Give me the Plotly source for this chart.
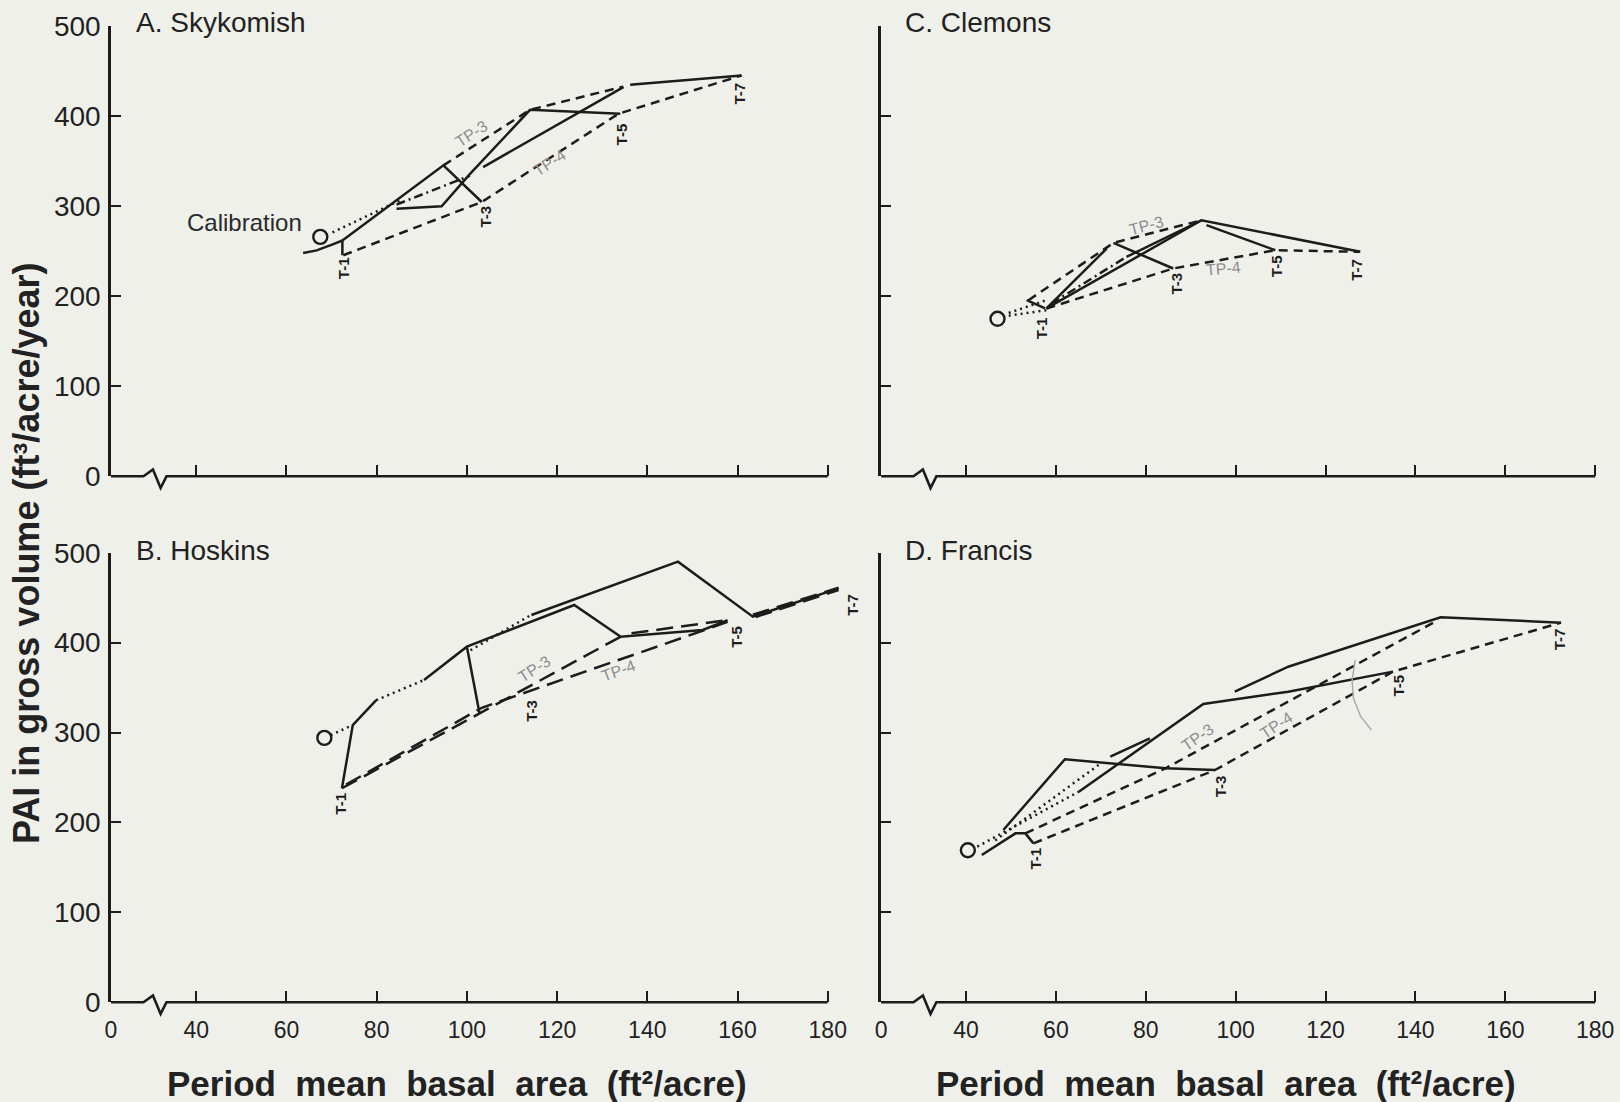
import plotly.graph_objects as go

BG = "#f0f0eb"
INK = "#1c1c1c"
GREY = "#8c8c8c"
SANS = "Liberation Sans, Arial, sans-serif"

# ---------------------------------------------------------------- axes
X_START = 21.1                      # left end of the broken axis, labelled "0"
X_TICKS = [40, 60, 80, 100, 120, 140, 160, 180]
Y_TICKS = [0, 100, 200, 300, 400, 500]
X_LEFT_MAX = 187
X_RIGHT_MAX = 181

# ---------------------------------------------------------------- A. Skykomish
sky_cal = [67.5, 266]
sky_solid_x = [63.7, 66.7, 70.4, 72.4, None, 72.4, 72.4, None, 72.4, 94.8, 103.3, None,
               84.4, 94.4, 100.7, 114.0, 134.0, None, 103.6, 134.7, None, 136.2, 160.9]
sky_solid_y = [248, 251, 258, 262, None, 262, 245.6, None, 262, 345.5, 304.8, None,
               297.4, 300, 336, 407.2, 402.8, None, 343.6, 432.4, None, 435, 445.4]
sky_dash_x = [72.6, 103.3, 133.6, 160.9, None, 94.8, 114.0, 134.7]
sky_dash_y = [245.6, 304.8, 402.8, 445.4, None, 345.5, 407.2, 433]
sky_dashdot_x = [84.4, 100.7]
sky_dashdot_y = [302, 334]
sky_dot_x = [70.2, 85.2]
sky_dot_y = [271, 306.6]

# ---------------------------------------------------------------- C. Clemons
cle_cal = [47, 175]
cle_solid_x = [53.5, 57.6, None, 57.9, 71.3, None, 72.8, 86.1, None, 57.9, 92.4, 127.7, None,
               93.5, 108.8, None, 75.7, 92.4]
cle_solid_y = [195.7, 186.5, None, 186.5, 253.1, None, 259.3, 230.9, None, 186.5, 284.5, 249.4, None,
               279, 251.2, None, 243.8, 284.5]
cle_dash_x = [57.9, 86.1, 108.8, 127.7, None, 53.9, 72.8, 92.4]
cle_dash_y = [186.5, 230.9, 251.2, 249.4, None, 195.7, 259.3, 284.5]
cle_dashdot_x = [59, 75.7]
cle_dashdot_y = [192, 243.8]
cle_dot_x = [49.5, 57.9, None, 49.5, 57.9]
cle_dot_y = [181.5, 195.7, None, 178.5, 184.6]

# ---------------------------------------------------------------- B. Hoskins
hos_cal = [68.4, 294]
hos_solid_x = [72.3, 74.7, 79.9, None, 90.5, 100.0, 123.8, 134.1, 152.3, 157.8, None,
               100.0, 102.8, None, 114.3, 146.8, 163.4, 182.4]
hos_solid_y = [238, 308.3, 336, None, 358.4, 395.5, 441.8, 406.6, 414, 425.1, None,
               395.5, 321.3, None, 430.7, 490, 428.8, 460.3]
hos_tp3_x = [72.3, 102.8, 134.1, None, 136.5, 157.8, None, 163.4, 182.4]
hos_tp3_y = [238, 321.3, 406.6, None, 410.3, 425.1, None, 431, 461]
hos_tp4_x = [73.2, 103.3, 157.8, None, 164.0, 182.4]
hos_tp4_y = [242, 327.5, 423, None, 428.5, 458.5]
hos_dot_x = [69.8, 74.7, None, 79.9, 90.5, None, 100.8, 114.3]
hos_dot_y = [297, 308.3, None, 336, 358.4, None, 391.5, 431]

# ---------------------------------------------------------------- D. Francis
fra_cal = [40.4, 169]
fra_solid_x = [43.5, 51.0, 53.2, 55.0, None, 48.3, 62.0, 84.4, 95.4, None,
               65.1, 92.8, 111.7, 135.0, None, 72.1, 80.9, None, 99.8, 111.7, 145.6, 172.4]
fra_solid_y = [163.8, 187.8, 187.8, 176.7, None, 191.6, 270.2, 260.2, 258.3, None,
               234.2, 331.7, 345.4, 367.7, None, 273.1, 293.5, None, 345.4, 373.2, 428.1, 422.2]
fra_dash_x = [55.0, 95.4, 135.0, 172.4, None, 53.2, 84.4, 145.1]
fra_dash_y = [176.7, 258.3, 367.7, 422.2, None, 187.8, 260.2, 425.2]
fra_dot_x = [42.5, 65.1, None, 46.5, 69.5]
fra_dot_y = [173, 234.2, None, 180, 263.9]
fra_mark_x = [126.6, 125.9, 126.2, 127.8, 130.2]
fra_mark_y = [380.7, 358, 338, 318, 302.8]

# ---------------------------------------------------------------- labels: (text, x, y[, angle])
sky_t_labels = [("T-1", 72.7, 231), ("T-3", 104.1, 289), ("T-5", 134.2, 380), ("T-7", 160.5, 425)]
sky_tp_labels = [("TP-3", 101.1, 381, -33), ("TP-4", 118.4, 349, -33)]
cle_t_labels = [("T-1", 56.8, 164), ("T-3", 86.9, 214), ("T-5", 109.1, 233), ("T-7", 126.9, 229)]
cle_tp_labels = [("TP-3", 80.2, 279, -15), ("TP-4", 97.3, 231, -5)]
hos_t_labels = [("T-1", 71.9, 221), ("T-3", 114.4, 324), ("T-5", 159.8, 406), ("T-7", 185.6, 442)]
hos_tp_labels = [("TP-3", 115.1, 371, -33), ("TP-4", 133.7, 369, -20)]
fra_t_labels = [("T-1", 55.4, 160), ("T-3", 96.7, 240), ("T-5", 136.3, 352), ("T-7", 172.0, 404)]
fra_tp_labels = [("TP-3", 91.4, 295, -35), ("TP-4", 109.0, 308, -33)]

fig = go.Figure()
LW = 2.5


def line(xs, ys, ax, dash="solid", width=LW, color=INK):
    fig.add_trace(go.Scatter(
        x=xs, y=ys, xaxis=ax[0], yaxis=ax[1], mode="lines",
        line=dict(color=color, width=width, dash=dash),
        hoverinfo="skip", showlegend=False))


def cal_point(pt, ax):
    fig.add_trace(go.Scatter(
        x=[pt[0]], y=[pt[1]], xaxis=ax[0], yaxis=ax[1], mode="markers",
        marker=dict(symbol="circle-open", size=14, color=INK, line=dict(width=2.4, color=INK)),
        hoverinfo="skip", showlegend=False))


DASH = "9px,6px"
LONGDASH = "17px,8px"
DASHDOT = "9px,4px,2px,4px"
DOT = "2px,4px"

panels = [
    (("x", "y"), sky_cal, [(sky_solid_x, sky_solid_y, "solid"), (sky_dash_x, sky_dash_y, DASH),
                            (sky_dashdot_x, sky_dashdot_y, DASHDOT), (sky_dot_x, sky_dot_y, DOT)]),
    (("x2", "y2"), cle_cal, [(cle_solid_x, cle_solid_y, "solid"), (cle_dash_x, cle_dash_y, DASH),
                              (cle_dashdot_x, cle_dashdot_y, DASHDOT), (cle_dot_x, cle_dot_y, DOT)]),
    (("x3", "y3"), hos_cal, [(hos_solid_x, hos_solid_y, "solid"), (hos_tp3_x, hos_tp3_y, LONGDASH),
                              (hos_tp4_x, hos_tp4_y, LONGDASH), (hos_dot_x, hos_dot_y, DOT)]),
    (("x4", "y4"), fra_cal, [(fra_solid_x, fra_solid_y, "solid"), (fra_dash_x, fra_dash_y, DASH),
                              (fra_dot_x, fra_dot_y, DOT)]),
]

for ax, cal, series in panels:
    for xs, ys, dash in series:
        line(xs, ys, ax, dash)
    cal_point(cal, ax)

# faint pencil stroke across the Francis treatment lines
line(fra_mark_x, fra_mark_y, ("x4", "y4"), width=1.4, color="#a8a8a8")

annotations = []


def t_labels(items, ax):
    for text, x, y in items:
        annotations.append(dict(text=text, x=x, y=y, xref=ax[0], yref=ax[1], showarrow=False,
                                textangle=-90,
                                font=dict(family=SANS, size=15, color=INK, weight="bold")))


def tp_labels(items, ax):
    for text, x, y, ang in items:
        annotations.append(dict(text=text, x=x, y=y, xref=ax[0], yref=ax[1], showarrow=False,
                                textangle=ang, font=dict(family=SANS, size=16, color=GREY)))


t_labels(sky_t_labels, ("x", "y"))
tp_labels(sky_tp_labels, ("x", "y"))
t_labels(cle_t_labels, ("x2", "y2"))
tp_labels(cle_tp_labels, ("x2", "y2"))
t_labels(hos_t_labels, ("x3", "y3"))
tp_labels(hos_tp_labels, ("x3", "y3"))
t_labels(fra_t_labels, ("x4", "y4"))
tp_labels(fra_tp_labels, ("x4", "y4"))

annotations.append(dict(text="Calibration", x=63.8, y=282, xref="x", yref="y", xanchor="right",
                        yanchor="middle", showarrow=False,
                        font=dict(family=SANS, size=24, color="#2a2a2a")))

# panel titles
TITLE_FONT = dict(family=SANS, size=28, color="#222")
for text, x, y in [("A. Skykomish", 134 / 1620, 1 - 22.7 / 1102), ("C. Clemons", 903 / 1620, 1 - 22.7 / 1102),
                   ("B. Hoskins", 134 / 1620, 1 - 550.7 / 1102), ("D. Francis", 903 / 1620, 1 - 550.7 / 1102)]:
    annotations.append(dict(text=text, x=x, y=y, xref="paper", yref="paper", xanchor="left",
                            yanchor="middle", showarrow=False, font=TITLE_FONT))

# axis titles
annotations.append(dict(text="PAI in gross volume (ft\u00b3/acre/year)", x=26 / 1620, y=1 - 553 / 1102,
                        xref="paper", yref="paper", xanchor="center", yanchor="middle",
                        textangle=-90, showarrow=False,
                        font=dict(family=SANS, size=36, color="#222", weight="bold")))
XT = "Period\u00a0\u00a0mean\u00a0\u00a0basal\u00a0\u00a0area\u00a0\u00a0(ft\u00b2/acre)"
for cx in (456.5 / 1620, 1225.6 / 1620):
    annotations.append(dict(text=XT, x=cx, y=1 - 1083 / 1102, xref="paper", yref="paper",
                            xanchor="center", yanchor="middle", showarrow=False,
                            font=dict(family=SANS, size=35, color="#222", weight="bold")))

# broken basal-area baselines drawn in axis-domain fractions
shapes = []


def baseline(xname, yname, xmax):
    def fx(v):
        return (v - X_START) / (xmax - X_START)

    def fy(v):
        return v / 500.0

    pts = [(X_START, 0), (28.3, 0), (30.4, 7.5), (32.1, -13), (33.4, 0), (180, 0)]
    path = "M " + " L ".join(f"{fx(a):.5f},{fy(b):.5f}" for a, b in pts)
    shapes.append(dict(type="path", path=path, xref=f"{xname} domain", yref=f"{yname} domain",
                       line=dict(color=INK, width=2.6)))


baseline("x", "y", X_LEFT_MAX)
baseline("x2", "y2", X_RIGHT_MAX)
baseline("x3", "y3", X_LEFT_MAX)
baseline("x4", "y4", X_RIGHT_MAX)

LEFT = [111 / 1620, 859.3 / 1620]
RIGHT = [881.1 / 1620, 1599.7 / 1620]
TOP = [1 - 476.3 / 1102, 1 - 26.3 / 1102]
BOTTOM = [1 - 1002.2 / 1102, 1 - 552.7 / 1102]


def xaxis(domain, anchor, xmax, labels):
    return dict(domain=domain, anchor=anchor, range=[X_START, xmax], showline=False,
                automargin=False, showgrid=False, zeroline=False, ticks="inside", ticklen=11,
                tickwidth=2, tickcolor=INK, tickvals=[X_START] + X_TICKS,
                ticktext=["0"] + [str(v) for v in X_TICKS], showticklabels=labels,
                ticklabelstandoff=12,
                tickfont=dict(family=SANS, size=23, color="#222"))


def yaxis(domain, anchor, labels):
    return dict(domain=domain, anchor=anchor, range=[0, 500], showline=True, linewidth=2.6,
                automargin=False, linecolor=INK, showgrid=False, zeroline=False, ticks="inside",
                ticklen=10, tickwidth=2, tickcolor=INK, tickvals=Y_TICKS, showticklabels=labels,
                ticklabelstandoff=2,
                tickfont=dict(family=SANS, size=28, color="#222"))


fig.update_layout(
    width=1620, height=1102, margin=dict(l=0, r=0, t=0, b=0, autoexpand=False),
    paper_bgcolor=BG, plot_bgcolor=BG, showlegend=False,
    xaxis=xaxis(LEFT, "y", X_LEFT_MAX, False),
    yaxis=yaxis(TOP, "x", True),
    xaxis2=xaxis(RIGHT, "y2", X_RIGHT_MAX, False),
    yaxis2=yaxis(TOP, "x2", False),
    xaxis3=xaxis(LEFT, "y3", X_LEFT_MAX, True),
    yaxis3=yaxis(BOTTOM, "x3", True),
    xaxis4=xaxis(RIGHT, "y4", X_RIGHT_MAX, True),
    yaxis4=yaxis(BOTTOM, "x4", False),
    annotations=annotations, shapes=shapes,
)

fig.write_html("out.html")
